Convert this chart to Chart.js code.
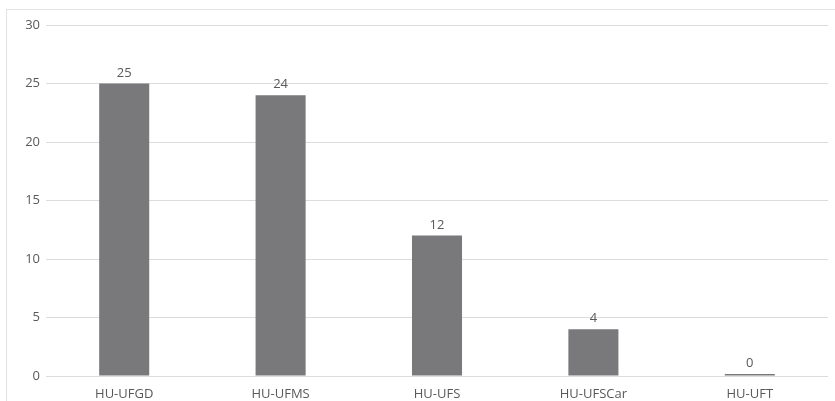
<!DOCTYPE html>
<html lang="en">
<head>
  <meta charset="UTF-8">
  <title>HU chart</title>
  <style>
    body {
      margin: 0;
      padding: 0;
      background: #fff;
      overflow: hidden;
    }
    .frame {
      position: absolute;
      left: 6px;
      top: 9px;
      width: 900px;
      height: 500px;
      border: 1px solid #e2e2e2;
    }
    .chart-box {
      position: absolute;
      left: 0;
      top: 0;
      width: 835px;
      height: 401px;
    }
  </style>
</head>
<body>
  <div class="frame"></div>
  <div class="chart-box">
    <canvas id="barChart"></canvas>
  </div>

  <script src="https://cdn.jsdelivr.net/npm/chart.js"></script>
  <script>
    // Data
    const categories = ['HU-UFGD', 'HU-UFMS', 'HU-UFS', 'HU-UFSCar', 'HU-UFT'];
    const counts = [25, 24, 12, 4, 0];

    const textColor = '#595959';
    const fontFamily = "'Open Sans', 'Noto Sans', sans-serif";

    // value labels above each bar
    const valueLabels = {
      id: 'valueLabels',
      afterDatasetsDraw(chart) {
        const ctx = chart.ctx;
        const meta = chart.getDatasetMeta(0);
        ctx.save();
        ctx.font = '13px ' + fontFamily;
        ctx.fillStyle = textColor;
        ctx.textAlign = 'center';
        ctx.textBaseline = 'bottom';
        meta.data.forEach((bar, i) => {
          ctx.fillText(String(counts[i]), bar.x, bar.y - 4);
        });
        ctx.restore();
      }
    };

    const ctx = document.getElementById('barChart').getContext('2d');
    new Chart(ctx, {
      type: 'bar',
      data: {
        labels: categories,
        datasets: [{
          data: counts,
          backgroundColor: '#79797c',
          borderWidth: 0,
          minBarLength: 2,
          barPercentage: 0.32,
          categoryPercentage: 1
        }]
      },
      options: {
        responsive: true,
        maintainAspectRatio: false,
        animation: false,
        layout: { padding: { top: 25, right: 7, bottom: 0, left: 0 } },
        plugins: {
          legend: { display: false },
          tooltip: { enabled: false }
        },
        scales: {
          x: {
            grid: { display: false },
            border: { display: false },
            ticks: { color: textColor, font: { family: fontFamily, size: 13 }, padding: 2 },
            afterFit: s => { s.height = 25; }
          },
          y: {
            min: 0,
            max: 30,
            ticks: { stepSize: 5, color: textColor, font: { family: fontFamily, size: 13 }, padding: 6 },
            grid: { color: '#dcdcdc', drawTicks: false },
            border: { display: false },
            afterFit: s => { s.width = 46; }
          }
        }
      },
      plugins: [valueLabels]
    });
  </script>
</body>
</html>
